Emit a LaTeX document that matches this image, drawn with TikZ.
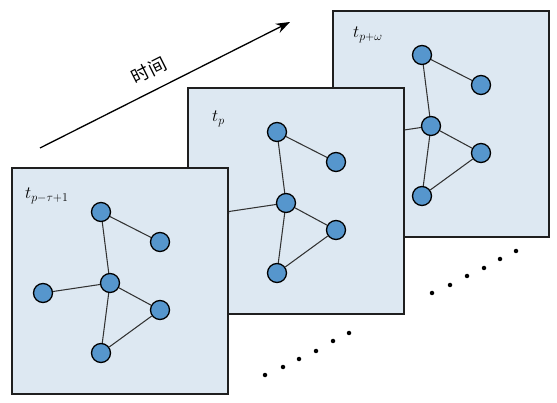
\documentclass[tikz,border=0pt]{standalone}
\usepackage{fontspec}
\newfontfamily\cjk{Noto Sans CJK SC}
\usetikzlibrary{arrows.meta}
\definecolor{framefill}{RGB}{221,232,242}
\definecolor{nodefill}{RGB}{86,150,205}
\definecolor{edgecol}{RGB}{50,50,50}
\tikzset{
  frame/.style={draw=black!88, line width=1.8pt, fill=framefill},
  vert/.style={circle, draw=black, line width=1.3pt, fill=nodefill, minimum size=19pt, inner sep=0pt},
  link/.style={draw=edgecol, line width=1.05pt},
  tdot/.style={circle, fill=black, inner sep=0pt, minimum size=4.5pt},
  tlabel/.style={anchor=base west, inner sep=0pt, font=\fontsize{17}{20}\selectfont},
}
\newcommand\drawsnap[5]{% prefix, x, y, label pos, label
  \begin{scope}[shift={(#2,#3)}]
    \draw[frame] (0,0) rectangle (216,226);
    \node[vert] (#1a) at (89,44) {};
    \node[vert] (#1b) at (148,74) {};
    \node[vert] (#1c) at (98,115) {};
    \node[vert] (#1d) at (31,125) {};
    \node[vert] (#1e) at (148,142) {};
    \node[vert] (#1f) at (89,185) {};
    \draw[link] (#1a) -- (#1b);
    \draw[link] (#1a) -- (#1c);
    \draw[link] (#1d) -- (#1c);
    \draw[link] (#1c) -- (#1e);
    \draw[link] (#1c) -- (#1f);
    \draw[link] (#1f) -- (#1e);
    \node[tlabel] (#1lab) at #4 {#5};
  \end{scope}}
\begin{document}
\begin{tikzpicture}[x=1pt,y=-1pt]
  \useasboundingbox (0,0) rectangle (557,403);
  \drawsnap{k}{333}{11}{(20,27)}{$t_{p+\omega}$}
  \drawsnap{m}{188}{88}{(24,34)}{$t_{p}$}
  \drawsnap{f}{12}{168}{(13,31)}{$t_{p-\tau+1}$}
  % time arrow
  \coordinate (as) at (40,148);
  \coordinate (ae) at (290,22);
  \draw[line width=1.3pt, -{Stealth[length=14pt,width=10pt]}] (as) -- (ae);
  \node[rotate=26.7, inner sep=0pt, font=\fontsize{18}{20}\selectfont\cjk] (tlbl) at (149,70) {时间};
  % dots
  \foreach \i/\x/\y in {1/265/375, 2/283/367, 3/299/359, 4/316/351, 5/333/341, 6/349/333,
                        7/432/293, 8/450/285, 9/467/276, 10/484/268, 11/500/259, 12/516/251}
    \node[tdot] (d\i) at (\x,\y) {};
\end{tikzpicture}
\end{document}
